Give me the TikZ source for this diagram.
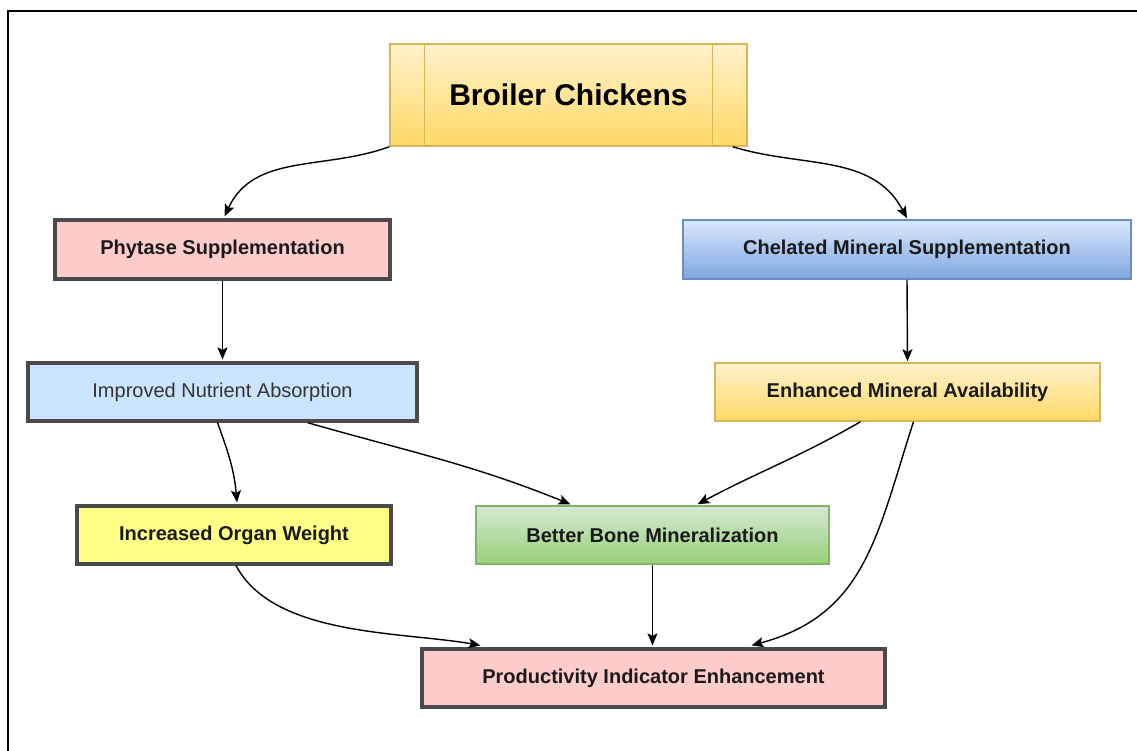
\documentclass[tikz,border=0pt]{standalone}
\usepackage{fontspec}
\setmainfont{Liberation Sans}
\usetikzlibrary{arrows.meta,calc}
\definecolor{pinkf}{HTML}{FFCCCC}
\definecolor{bluef}{HTML}{CCE5FF}
\definecolor{yelf}{HTML}{FFFF88}
\definecolor{gborder}{HTML}{4A4A4A}
\definecolor{ytop}{HTML}{FFF2CC}
\definecolor{ybot}{HTML}{FFD966}
\definecolor{yline}{HTML}{D6B656}
\definecolor{btop}{HTML}{DAE8FC}
\definecolor{bbot}{HTML}{7EA6E0}
\definecolor{bline}{HTML}{6C8EBF}
\definecolor{gtop}{HTML}{D5E8D4}
\definecolor{gbot}{HTML}{97D077}
\definecolor{gline}{HTML}{82B366}
\definecolor{txt}{HTML}{1A1A1A}
\definecolor{txtl}{HTML}{333333}
\tikzset{
  box/.style={rectangle, inner sep=0pt, align=center, text=txt,
    font=\fontsize{20}{24}\selectfont\bfseries},
  darkbox/.style={box, draw=gborder, line width=3.2pt},
  gradbox/.style={box, line width=1.5pt},
  arr/.style={line width=1.4pt, -{Stealth[length=12pt,width=10pt,inset=2.5pt]}},
}
\begin{document}
\begin{tikzpicture}[x=1pt,y=-1pt]
\useasboundingbox (0,0) rectangle (1137,751);
\fill[white] (0,0) rectangle (1137,751);
\draw[line width=1.5pt] (8,751) -- (8,11) -- (1137,11);

\node[gradbox, draw=yline, top color=ytop, bottom color=ybot,
  minimum width=357pt, minimum height=102pt,
  font=\fontsize{30}{36}\selectfont\bfseries, text=black] (bc) at (568.5,95) {Broiler Chickens};
\draw[yline, line width=1.2pt] ($(bc.north west)+(35,0)$) -- ($(bc.south west)+(35,0)$);
\draw[yline, line width=1.2pt] ($(bc.north east)+(-35,0)$) -- ($(bc.south east)+(-35,0)$);

\node[darkbox, fill=pinkf, minimum width=335pt, minimum height=59pt] (phy) at (222.5,249.5) {Phytase Supplementation};
\node[gradbox, draw=bline, top color=btop, bottom color=bbot, minimum width=448pt, minimum height=59pt] (chel) at (907,249.5) {Chelated Mineral Supplementation};
\node[darkbox, fill=bluef, minimum width=389pt, minimum height=58pt,
  font=\fontsize{20}{24}\selectfont, text=txtl] (imp) at (222.5,392) {Improved Nutrient Absorption};
\node[gradbox, draw=yline, top color=ytop, bottom color=ybot, minimum width=385pt, minimum height=58pt] (enh) at (907.5,392) {Enhanced Mineral Availability};
\node[darkbox, fill=yelf, minimum width=314pt, minimum height=58pt] (inc) at (234,535) {Increased Organ Weight};
\node[gradbox, draw=gline, top color=gtop, bottom color=gbot, minimum width=353pt, minimum height=58pt] (bet) at (652.5,535) {Better Bone Mineralization};
\node[darkbox, fill=pinkf, minimum width=463pt, minimum height=58pt] (prod) at (653.5,678) {Productivity Indicator Enhancement};

\draw[arr] (bc.south west) to[out=200, in=65] ($(phy.north)+(2,-2)$);
\draw[arr] ($(bc.south east)+(-15,0)$) to[out=-17, in=118] ($(chel.north)+(0,-1)$);
\draw[arr] (phy.south) -- ($(imp.north)+(0,-2)$);
\draw[arr] (chel.south) -- ($(enh.north)+(0,-1)$);
\draw[arr] ($(imp.south)+(-5,0)$) to[out=-70, in=95] ($(inc.north)+(3,-2)$);
\draw[arr] ($(imp.south)+(85,0)$) to[out=-16, in=158] ($(bet.north)+(-82,-1)$);
\draw[arr] ($(enh.south)+(-47,0)$) to[out=-150, in=28] ($(bet.north)+(45,-1)$);
\draw[arr] ($(enh.south)+(6,0)$) to[out=-108, in=15, looseness=1.1] ($(prod.north)+(98,-2)$);
\draw[arr] ($(inc.south)+(2,0)$) to[out=-62, in=170, looseness=0.8] ($(prod.north)+(-173,-2)$);
\draw[arr] (bet.south) -- ($(prod.north)+(-1,-2)$);
\end{tikzpicture}
\end{document}
